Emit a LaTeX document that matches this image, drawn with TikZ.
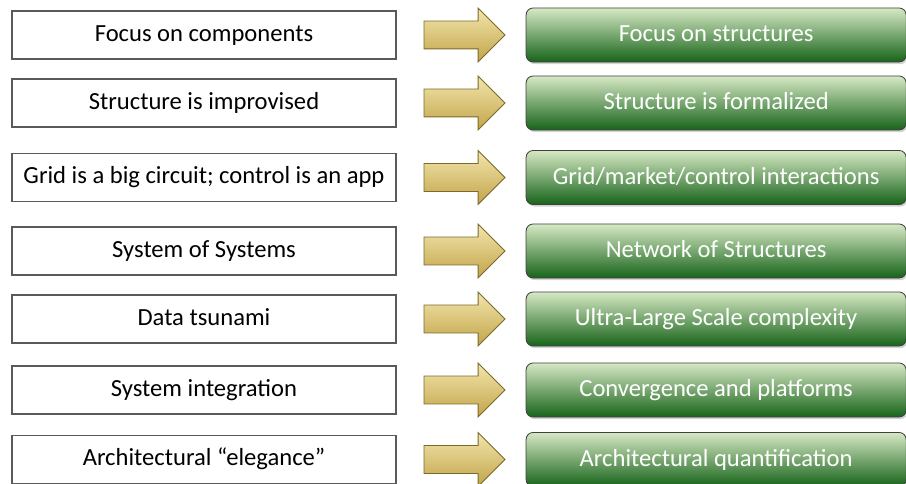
\documentclass[tikz,border=0pt]{standalone}
\usepackage{fontspec}
\setmainfont{Carlito}
\usetikzlibrary{shapes.arrows, shadows, positioning}
\definecolor{boxgray}{HTML}{5A5A5A}
\definecolor{greentop}{HTML}{D6E8C4}
\definecolor{greenmid}{HTML}{6AA450}
\definecolor{greenbot}{HTML}{17641A}
\definecolor{goldtop}{HTML}{F2E6AC}
\definecolor{goldbot}{HTML}{C2A44A}
\definecolor{goldline}{HTML}{7C6A2A}

\begin{document}
\begin{tikzpicture}[
    x=0.025cm, y=-0.025cm,
    oldbox/.style={draw=boxgray, line width=0.8pt, minimum width=9.6cm, minimum height=1.2cm,
        text height=13pt, text depth=3.8pt, font=\fontsize{17.5}{20}\selectfont},
    newbox/.style={draw=black!75, line width=0.6pt, rounded corners=5pt, minimum width=9.5cm,
        minimum height=1.35cm, top color=greentop, middle color=greenmid, bottom color=greenbot,
        drop shadow={opacity=0.35, shadow xshift=1pt, shadow yshift=-1.5pt},
        text height=13pt, text depth=3.3pt, text=white, font=\fontsize{17.5}{20}\selectfont},
    goarrow/.style={single arrow, draw=goldline, line width=0.6pt, top color=goldtop, bottom color=goldbot,
        minimum height=2.025cm, minimum width=1.325cm, inner sep=0.3375cm,
        single arrow head extend=0.325cm}
]
    \useasboundingbox (0,0) rectangle (906,484);

    % Left column: today
    \node[oldbox] (old1) at (204,35) {Focus on components};
    \node[oldbox] (old2) at (204,103) {Structure is improvised};
    \node[oldbox] (old3) at (204,177.5) {Grid is a big circuit; control is an app};
    \node[oldbox] (old4) at (204,251) {System of Systems};
    \node[oldbox] (old5) at (204,319) {Data tsunami};
    \node[oldbox] (old6) at (204,390) {System integration};
    \node[oldbox] (old7) at (204,459.5) {Architectural “elegance”};

    % Right column: tomorrow
    \node[newbox, right=3.225cm of old1] (new1) {Focus on structures};
    \node[newbox, right=3.225cm of old2] (new2) {Structure is formalized};
    \node[newbox, right=3.225cm of old3] (new3) {Grid/market/control interactions};
    \node[newbox, right=3.225cm of old4] (new4) {Network of Structures};
    \node[newbox, right=3.225cm of old5] (new5) {Ultra-Large Scale complexity};
    \node[newbox, right=3.225cm of old6] (new6) {Convergence and platforms};
    \node[newbox, right=3.225cm of old7] (new7) {Architectural quantification};

    % Arrows
    \node[goarrow, right=0.675cm of old1] (arr1) {};
    \node[goarrow, right=0.675cm of old2] (arr2) {};
    \node[goarrow, right=0.675cm of old3] (arr3) {};
    \node[goarrow, right=0.675cm of old4] (arr4) {};
    \node[goarrow, right=0.675cm of old5] (arr5) {};
    \node[goarrow, right=0.675cm of old6] (arr6) {};
    \node[goarrow, right=0.675cm of old7] (arr7) {};
\end{tikzpicture}
\end{document}
